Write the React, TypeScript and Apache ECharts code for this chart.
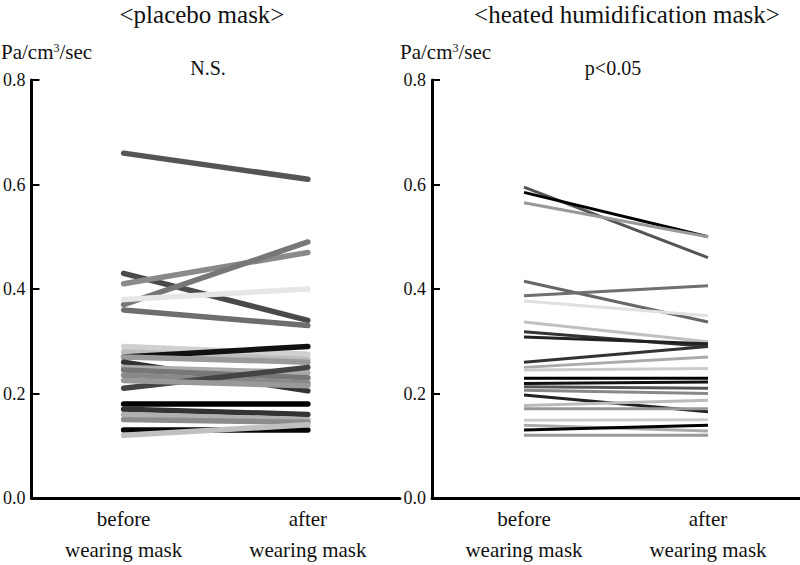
import React, { useEffect, useRef } from "react";
import * as echarts from "echarts";

const categories = ["before\nwearing mask", "after\nwearing mask"];
const yTicks = [0, 0.2, 0.4, 0.6, 0.8];

// placebo mask: [before, after]
const placeboBefore = [0.66, 0.43, 0.41, 0.37, 0.38, 0.36, 0.29, 0.28, 0.27, 0.27, 0.26, 0.25, 0.245, 0.235, 0.21, 0.225, 0.18, 0.17, 0.16, 0.15, 0.13, 0.12];
const placeboAfter = [0.61, 0.34, 0.47, 0.49, 0.40, 0.33, 0.275, 0.265, 0.29, 0.26, 0.205, 0.24, 0.23, 0.22, 0.25, 0.215, 0.18, 0.16, 0.15, 0.145, 0.13, 0.14];
const placeboColors = ["#555555", "#4a4a4a", "#8a8a8a", "#777777", "#e6e6e6", "#6e6e6e", "#d0d0d0", "#bdbdbd", "#111111", "#9a9a9a", "#333333", "#aaaaaa", "#777777", "#888888", "#444444", "#999999", "#000000", "#333333", "#b0b0b0", "#8c8c8c", "#050505", "#c0c0c0"];

// heated humidification mask: [before, after]
const heatedBefore = [0.595, 0.585, 0.565, 0.415, 0.387, 0.377, 0.337, 0.318, 0.308, 0.26, 0.25, 0.245, 0.229, 0.219, 0.213, 0.206, 0.197, 0.177, 0.171, 0.149, 0.139, 0.13, 0.12];
const heatedAfter = [0.46, 0.5, 0.5, 0.337, 0.406, 0.349, 0.299, 0.29, 0.295, 0.29, 0.27, 0.248, 0.229, 0.222, 0.21, 0.2, 0.165, 0.187, 0.171, 0.15, 0.128, 0.139, 0.12];
const heatedColors = ["#555555", "#000000", "#999999", "#666666", "#707070", "#e0e0e0", "#c0c0c0", "#333333", "#222222", "#333333", "#aaaaaa", "#cccccc", "#000000", "#111111", "#555555", "#888888", "#222222", "#bbbbbb", "#999999", "#cccccc", "#aaaaaa", "#000000", "#999999"];

const FONT = "'Liberation Serif', 'DejaVu Serif', serif";
const INK = "#111";

export default function App() {
  const ref = useRef<HTMLDivElement>(null);
  useEffect(() => {
    if (!ref.current) return;
    const chart = echarts.init(ref.current, null, { renderer: "svg" });

    const mkX = (gridIndex: number) => ({
      type: "category" as const,
      gridIndex,
      data: categories,
      boundaryGap: true,
      axisLine: { lineStyle: { color: "#000", width: 3 } },
      axisTick: { show: false },
      axisLabel: { color: INK, fontFamily: FONT, fontSize: 21, lineHeight: 31, margin: 5 },
    });
    const mkY = (gridIndex: number) => ({
      type: "value" as const,
      gridIndex,
      min: 0,
      max: 0.8,
      interval: 0.2,
      splitLine: { show: false },
      axisLine: { show: true, lineStyle: { color: "#000", width: 3 } },
      axisTick: { show: true, inside: true, length: 8, lineStyle: { color: "#000", width: 2 } },
      axisLabel: {
        color: INK,
        fontFamily: FONT,
        fontSize: 18,
        margin: 6,
        formatter: (v: number) => (yTicks.includes(Math.round(v * 10) / 10) ? v.toFixed(1) : ""),
      },
    });

    const series: any[] = [];
    placeboBefore.forEach((b, i) => {
      series.push({
        type: "line",
        xAxisIndex: 0,
        yAxisIndex: 0,
        data: [b, placeboAfter[i]],
        symbol: "none",
        lineStyle: { color: placeboColors[i], width: 5.5, cap: "round" },
        z: 2,
      });
    });
    heatedBefore.forEach((b, i) => {
      series.push({
        type: "line",
        xAxisIndex: 1,
        yAxisIndex: 1,
        data: [b, heatedAfter[i]],
        symbol: "none",
        lineStyle: { color: heatedColors[i], width: 3 },
        z: 2,
      });
    });

    const txt = (text: string, x: number, y: number, size: number) => ({
      type: "text",
      x,
      y,
      style: { text, fill: INK, font: `${size}px ${FONT}`, textAlign: "center", textVerticalAlign: "middle" },
    });
    const unit = (x: number) => ({
      type: "text",
      x,
      y: 52,
      style: {
        text: "{a|Pa/cm}{s|3}{a|/sec}",
        fill: INK,
        textVerticalAlign: "middle",
        rich: {
          a: { fontFamily: FONT, fontSize: 21, fill: INK },
          s: { fontFamily: FONT, fontSize: 12, fill: INK, verticalAlign: "top", padding: [0, 0, 8, 0] },
        },
      },
    });

    chart.setOption({
      animation: false,
      backgroundColor: "#fff",
      grid: [
        { left: 28, top: 80, width: 372, height: 420 },
        { left: 432, top: 80, width: 368, height: 420 },
      ],
      xAxis: [mkX(0), mkX(1)],
      yAxis: [mkY(0), mkY(1)],
      series,
      graphic: [
        txt("<placebo mask>", 202, 14, 25),
        txt("<heated humidification mask>", 627, 14, 25),
        txt("N.S.", 208, 68, 20),
        txt("p<0.05", 613, 68, 20),
        unit(1),
        unit(400),
      ],
    });
    return () => chart.dispose();
  }, []);
  return <div ref={ref} style={{ position: "fixed", left: 0, top: 0, width: 800, height: 565 }} />;
}
